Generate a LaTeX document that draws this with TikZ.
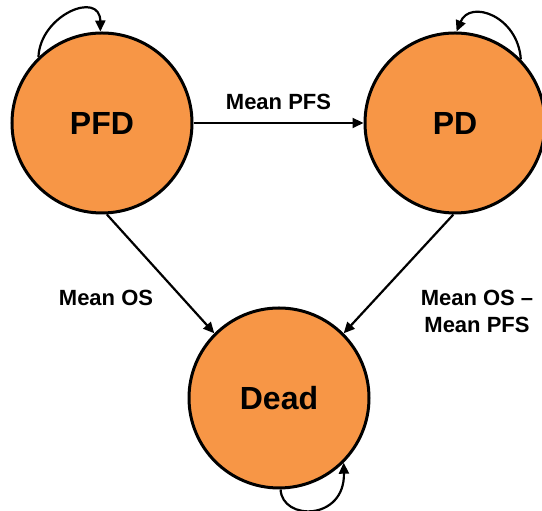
\documentclass[tikz,border=0pt]{standalone}
\usepackage{fontspec}
\setmainfont{Liberation Sans}
\usepackage{tikz}
\usetikzlibrary{arrows.meta, positioning}
\definecolor{myorange}{RGB}{247,150,70}
\definecolor{mydark}{RGB}{0,0,0}
\tikzset{
  state/.style={circle, draw=mydark, fill=myorange, minimum size=180pt, inner sep=0pt, line width=3pt, font=\fontsize{32}{36}\selectfont\bfseries},
  arrow/.style={-{Triangle[length=11pt,width=10pt]}, line width=2.2pt, color=mydark},
  edgetext/.style={font=\fontsize{22}{27}\selectfont\bfseries, align=center, inner sep=0pt}
}
\begin{document}
\begin{tikzpicture}[x=1pt, y=1pt]
  \useasboundingbox (0,0) rectangle (542,511);

  % States
  \node[state] (pfd) at (102,388) {PFD};
  \node[state] (pd) at (455,388) {PD};
  \node[state] (dead) at (279,113) {Dead};

  % Transitions
  \draw[arrow] (pfd) -- (pd) node[midway, above=12pt, edgetext] (lblpfs) {Mean PFS};
  \draw[arrow] (pfd.-87) -- (dead.135);
  \draw[arrow] (pd.-91) -- (dead.45);
  \node[edgetext] (lblos) at (106,213) {Mean OS};
  \node[edgetext] (lblospfs) at (477,200) {Mean OS –\\Mean PFS};

  % Self loops
  \draw[arrow] (pfd.134) .. controls (40,496) and (100,521) .. (pfd.91);
  \draw[arrow] (pd.44) .. controls (518,495) and (470,512) .. (pd.89);
  \draw[arrow] (dead.-89) .. controls (282,-10) and (345,-10) .. (dead.-45);
\end{tikzpicture}
\end{document}
